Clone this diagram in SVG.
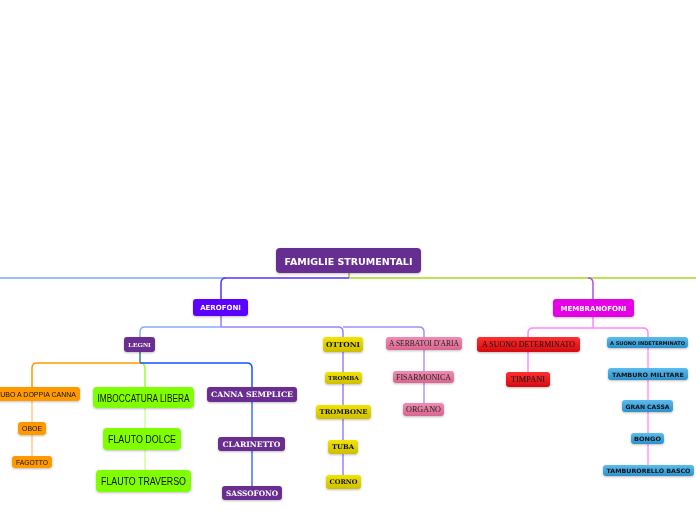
<svg xmlns="http://www.w3.org/2000/svg" width="696" height="520" viewBox="0 0 696 520">
<style>
.c{fill:none;stroke-width:1.5}
text{text-anchor:middle;dominant-baseline:central}
.sans{font-family:"DejaVu Sans",Verdana,sans-serif;font-weight:bold;fill:#fff}
.hand{font-family:"Liberation Sans",Arial,sans-serif;fill:#111}
.slab{font-family:"DejaVu Serif",serif;font-weight:bold;fill:#111}
.ser{font-family:"Liberation Serif",serif;fill:#222}
.deco{font-family:"DejaVu Serif",serif;font-weight:bold;fill:#fff}
</style>
<defs>
<linearGradient id="gy" x1="0" y1="0" x2="0" y2="1"><stop offset="0" stop-color="#f2e400"/><stop offset="1" stop-color="#cdbf00"/></linearGradient>
<linearGradient id="gp" x1="0" y1="0" x2="0" y2="1"><stop offset="0" stop-color="#f08cb0"/><stop offset="1" stop-color="#d9668f"/></linearGradient>
<linearGradient id="gr" x1="0" y1="0" x2="0" y2="1"><stop offset="0" stop-color="#ff3030"/><stop offset="1" stop-color="#d40a10"/></linearGradient>
<linearGradient id="gb" x1="0" y1="0" x2="0" y2="1"><stop offset="0" stop-color="#5cbcee"/><stop offset="1" stop-color="#2a92cc"/></linearGradient>
<filter id="sh" x="-10%" y="-20%" width="120%" height="150%"><feDropShadow dx="0" dy="1" stdDeviation="0.8" flood-color="#000" flood-opacity="0.25"/></filter>
</defs>
<rect width="696" height="520" fill="#fff"/>
<g id="connectors">
<path class="c" stroke="#a0c020" stroke-width="2" d="M349,273 V278"/>
<path class="c" stroke="#7ea6f8" stroke-width="2.5" d="M226,278 H0"/>
<path class="c" stroke="#5533ff" stroke-width="2" d="M349,278 H226 Q221,278 221,283 V299"/>
<path class="c" stroke="#a6d81a" stroke-width="2" d="M349,278 H696"/>
<path class="c" stroke="#b050e0" stroke-width="1.5" d="M588,278 Q593,278 593,283 V299"/>
<path class="c" stroke="#9977ff" d="M221,316 V327"/>
<path class="c" stroke="#88aaff" d="M221,327 H145 Q140,327 140,332 V337"/>
<path class="c" stroke="#9a80ff" d="M221,327 H338 Q343,327 343,332 V337"/>
<path class="c" stroke="#a68cff" d="M343,327 H419 Q424,327 424,332 V337"/>
<path class="c" stroke="#3a7a8a" d="M140,352 V363"/>
<path class="c" stroke="#ff9900" d="M140,363 H37 Q32,363 32,368 V387"/>
<path class="c" stroke="#99ff33" d="M140,363 Q145,363 145,368 V387"/>
<path class="c" stroke="#1155ff" d="M140,363 H247 Q252,363 252,368 V387"/>
<path class="c" stroke="#ffcc88" d="M32,401 V422 M32,435 V456"/>
<path class="c" stroke="#ccff99" d="M145,408 V428 M145,450 V470"/>
<path class="c" stroke="#3f6fff" d="M252,402 V437 M252,451 V486"/>
<path class="c" stroke="#a080ff" d="M343,352 V372 M343,384 V405 M343,419 V440 M343,454 V475"/>
<path class="c" stroke="#b399ff" d="M424,350 V371 M424,383 V403"/>
<path class="c" stroke="#ff88ff" d="M593,317 V328 M593,328 H533 Q528,328 528,333 V337 M593,328 H643 Q648,328 648,333 V337"/>
<path class="c" stroke="#ff88ff" d="M528,352 V372"/>
<path class="c" stroke="#ff99ff" d="M648,348 V368 M648,380 V400 M648,412 V433 M648,444 V465"/>
</g>
<g id="root" filter="url(#sh)"><rect x="276" y="248" width="145" height="25" rx="4" fill="#662d91"/><text class="sans" x="348.5" y="261" font-size="9.5">FAMIGLIE STRUMENTALI</text></g>
<g id="aerofoni" filter="url(#sh)"><rect x="193" y="299" width="55" height="17" rx="3" fill="#5c00ff"/><text class="sans" x="220.5" y="308" font-size="7">AEROFONI</text></g>
<g id="membranofoni" filter="url(#sh)"><rect x="553" y="299" width="81" height="18" rx="3" fill="#e600e6"/><text class="sans" x="593.5" y="308.5" font-size="7">MEMBRANOFONI</text></g>
<g id="legni" filter="url(#sh)"><rect x="124" y="337" width="31" height="15" rx="3" fill="#6b2f90"/><text class="ser" x="139.5" y="345" font-size="7" style="fill:#fff;font-weight:bold">LEGNI</text></g>
<g id="doppia-canna" filter="url(#sh)"><rect x="-8" y="387" width="88" height="14" rx="3" fill="#ff9900"/><text class="hand" x="36" y="394.5" font-size="7" textLength="80" lengthAdjust="spacingAndGlyphs">TUBO A DOPPIA CANNA</text></g>
<g id="oboe" filter="url(#sh)"><rect x="18" y="422" width="28" height="13" rx="3" fill="#ff9900"/><text class="hand" x="32" y="428.5" font-size="7" textLength="20" lengthAdjust="spacingAndGlyphs">OBOE</text></g>
<g id="fagotto" filter="url(#sh)"><rect x="12" y="456" width="40" height="12" rx="3" fill="#ff9900"/><text class="hand" x="32" y="462.5" font-size="7" textLength="32" lengthAdjust="spacingAndGlyphs">FAGOTTO</text></g>
<g id="imboccatura" filter="url(#sh)"><rect x="93" y="387" width="101" height="21" rx="4" fill="#80ff00"/><text class="hand" x="143.5" y="398" font-size="10" textLength="92" lengthAdjust="spacingAndGlyphs">IMBOCCATURA LIBERA</text></g>
<g id="flauto-dolce" filter="url(#sh)"><rect x="103" y="428" width="78" height="22" rx="4" fill="#80ff00"/><text class="hand" x="142" y="439" font-size="10" textLength="68" lengthAdjust="spacingAndGlyphs">FLAUTO DOLCE</text></g>
<g id="flauto-traverso" filter="url(#sh)"><rect x="96" y="470" width="95" height="22" rx="4" fill="#80ff00"/><text class="hand" x="143.5" y="481" font-size="10" textLength="85" lengthAdjust="spacingAndGlyphs">FLAUTO TRAVERSO</text></g>
<g id="canna-semplice" filter="url(#sh)"><rect x="207" y="387" width="90" height="15" rx="3" fill="#6b2f90"/><text class="deco" x="252" y="394.5" font-size="7.5" textLength="82" lengthAdjust="spacingAndGlyphs">CANNA SEMPLICE</text></g>
<g id="clarinetto" filter="url(#sh)"><rect x="218" y="437" width="67" height="14" rx="3" fill="#6b2f90"/><text class="deco" x="251.5" y="444" font-size="7.5" textLength="58" lengthAdjust="spacingAndGlyphs">CLARINETTO</text></g>
<g id="sassofono" filter="url(#sh)"><rect x="222" y="486" width="60" height="14" rx="3" fill="#6b2f90"/><text class="deco" x="252" y="493" font-size="7.5" textLength="52" lengthAdjust="spacingAndGlyphs">SASSOFONO</text></g>
<g id="ottoni" filter="url(#sh)"><rect x="323" y="337" width="40" height="15" rx="3" fill="url(#gy)"/><text class="slab" x="343" y="344.5" font-size="7" textLength="34" lengthAdjust="spacingAndGlyphs">OTTONI</text></g>
<g id="tromba" filter="url(#sh)"><rect x="325" y="372" width="37" height="12" rx="3" fill="url(#gy)"/><text class="slab" x="343.5" y="378" font-size="5.5" textLength="31" lengthAdjust="spacingAndGlyphs">TROMBA</text></g>
<g id="trombone" filter="url(#sh)"><rect x="316" y="405" width="55" height="14" rx="3" fill="url(#gy)"/><text class="slab" x="343.5" y="412" font-size="6.5" textLength="48" lengthAdjust="spacingAndGlyphs">TROMBONE</text></g>
<g id="tuba" filter="url(#sh)"><rect x="328" y="440" width="30" height="14" rx="3" fill="url(#gy)"/><text class="slab" x="343" y="447" font-size="6.5" textLength="22" lengthAdjust="spacingAndGlyphs">TUBA</text></g>
<g id="corno" filter="url(#sh)"><rect x="326" y="475" width="35" height="14" rx="3" fill="url(#gy)"/><text class="slab" x="343.5" y="482" font-size="6.5" textLength="28" lengthAdjust="spacingAndGlyphs">CORNO</text></g>
<g id="serbatoi" filter="url(#sh)"><rect x="386" y="337" width="76" height="13" rx="3" fill="url(#gp)"/><text class="ser" x="424" y="343.5" font-size="8" textLength="70" lengthAdjust="spacingAndGlyphs">A SERBATOI D'ARIA</text></g>
<g id="fisarmonica" filter="url(#sh)"><rect x="393" y="371" width="61" height="12" rx="3" fill="url(#gp)"/><text class="ser" x="423.5" y="377" font-size="8" textLength="55" lengthAdjust="spacingAndGlyphs">FISARMONICA</text></g>
<g id="organo" filter="url(#sh)"><rect x="403" y="403" width="41" height="13" rx="3" fill="url(#gp)"/><text class="ser" x="423.5" y="409.5" font-size="8" textLength="35" lengthAdjust="spacingAndGlyphs">ORGANO</text></g>
<g id="suono-determinato" filter="url(#sh)"><rect x="477" y="337" width="103" height="15" rx="3" fill="url(#gr)"/><text class="ser" x="528.5" y="344.5" font-size="8" textLength="93" lengthAdjust="spacingAndGlyphs" style="fill:#111">A SUONO DETERMINATO</text></g>
<g id="timpani" filter="url(#sh)"><rect x="506" y="372" width="44" height="15" rx="3" fill="url(#gr)"/><text class="ser" x="528" y="379.5" font-size="8" textLength="34" lengthAdjust="spacingAndGlyphs" style="fill:#111">TIMPANI</text></g>
<g id="suono-indeterminato" filter="url(#sh)"><rect x="607" y="337" width="81" height="11" rx="3" fill="url(#gb)"/><text class="sans" x="647.5" y="342.5" font-size="5" textLength="75" lengthAdjust="spacingAndGlyphs" style="fill:#111">A SUONO INDETERMINATO</text></g>
<g id="tamburo-militare" filter="url(#sh)"><rect x="608" y="368" width="80" height="12" rx="3" fill="url(#gb)"/><text class="sans" x="648" y="374" font-size="6" textLength="72" lengthAdjust="spacingAndGlyphs" style="fill:#111">TAMBURO MILITARE</text></g>
<g id="gran-cassa" filter="url(#sh)"><rect x="622" y="400" width="51" height="12" rx="3" fill="url(#gb)"/><text class="sans" x="647.5" y="406" font-size="6" textLength="44" lengthAdjust="spacingAndGlyphs" style="fill:#111">GRAN CASSA</text></g>
<g id="bongo" filter="url(#sh)"><rect x="631" y="433" width="33" height="11" rx="3" fill="url(#gb)"/><text class="sans" x="647.5" y="438.5" font-size="6" textLength="27" lengthAdjust="spacingAndGlyphs" style="fill:#111">BONGO</text></g>
<g id="tamburello" filter="url(#sh)"><rect x="603" y="465" width="91" height="11" rx="3" fill="url(#gb)"/><text class="sans" x="648.5" y="470.5" font-size="6" textLength="84" lengthAdjust="spacingAndGlyphs" style="fill:#111">TAMBURORELLO BASCO</text></g>
</svg>
